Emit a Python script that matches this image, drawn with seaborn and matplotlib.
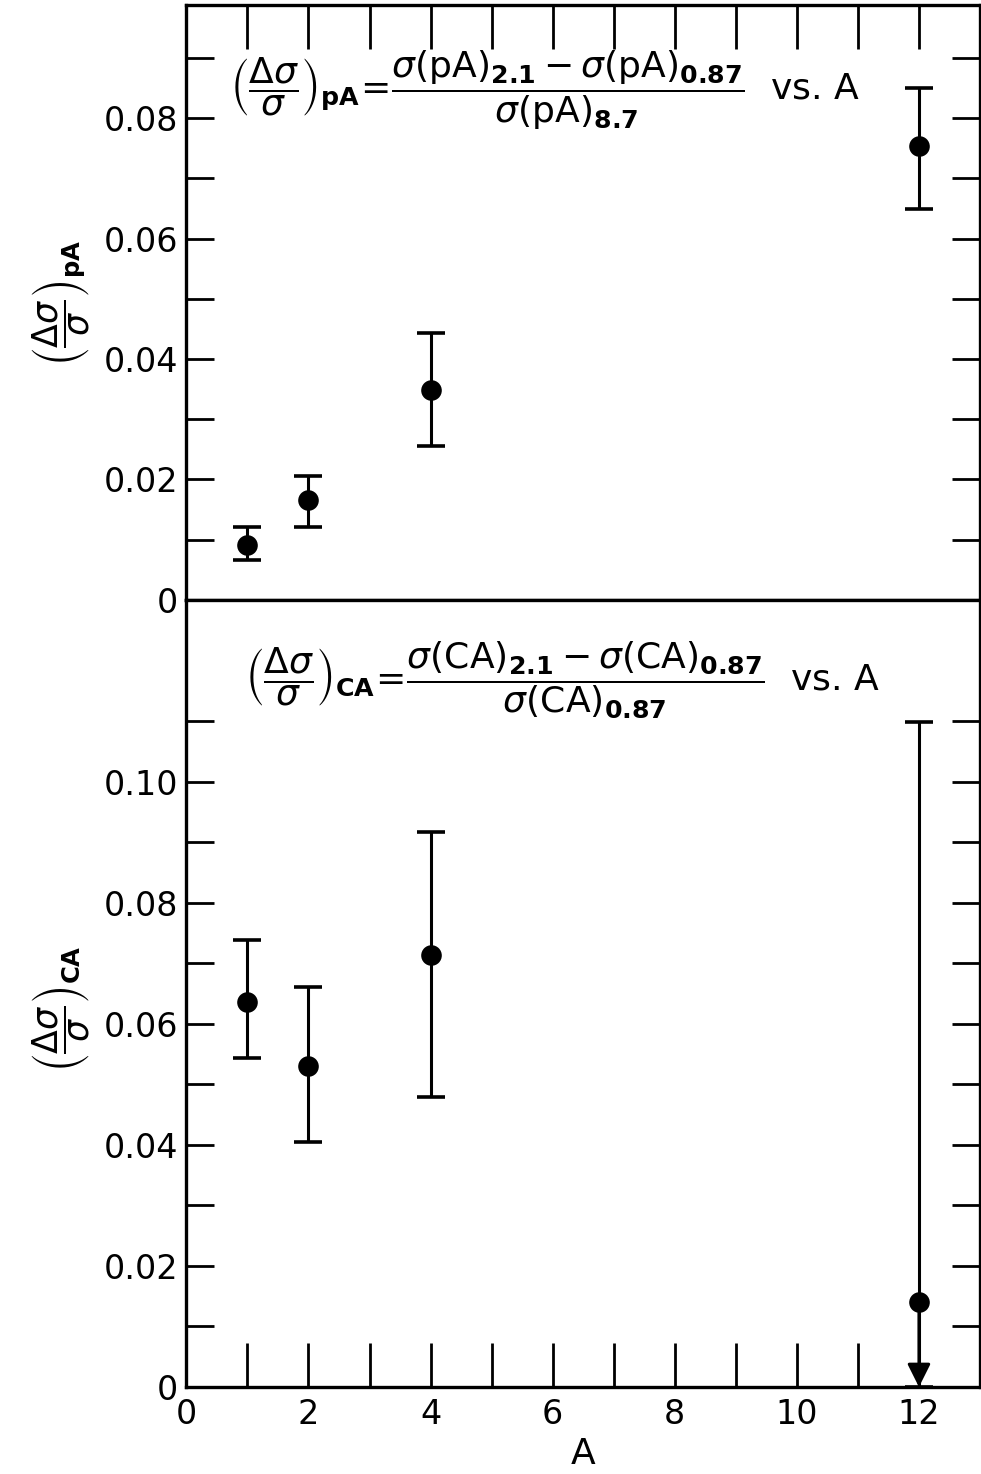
import numpy as np
import matplotlib
matplotlib.use('Agg')
import matplotlib.pyplot as plt
import seaborn as sns

# data
A = [1, 2, 4, 12]

pa_val = [0.0091, 0.0166, 0.0349, 0.0754]
pa_lo = [0.0066, 0.0121, 0.0256, 0.0649]
pa_hi = [0.0121, 0.0206, 0.0443, 0.0851]

ca_val = [0.0636, 0.0531, 0.0714, 0.0140]
ca_lo = [0.0544, 0.0405, 0.0479, 0.0]   # 0 = open downward (arrow)
ca_hi = [0.0739, 0.0660, 0.0917, 0.1098]

pa_ticks = [0, 0.02, 0.04, 0.06, 0.08]
pa_ticklabels = ['0', '0.02', '0.04', '0.06', '0.08']
ca_ticks = [0, 0.02, 0.04, 0.06, 0.08, 0.10]
ca_ticklabels = ['0', '0.02', '0.04', '0.06', '0.08', '0.10']
x_ticks = [0, 2, 4, 6, 8, 10, 12]

sns.set_style('ticks')
plt.rcParams['font.family'] = ['DejaVu Sans']
plt.rcParams['mathtext.fontset'] = 'dejavusans'
plt.rcParams['text.color'] = 'black'
plt.rcParams['axes.labelcolor'] = 'black'
plt.rcParams['xtick.color'] = 'black'
plt.rcParams['ytick.color'] = 'black'

fig = plt.figure(figsize=(9.81, 14.74), dpi=100)
ax1 = fig.add_axes([0.19, 0.593, 0.809, 0.4036])
ax2 = fig.add_axes([0.19, 0.059, 0.809, 0.534])

lw = 2.4
for ax in (ax1, ax2):
    for s in ax.spines.values():
        s.set_linewidth(lw)
        s.set_color('black')
    ax.set_xlim(0, 13)


def draw(ax, val, lo, hi):
    val = np.array(val)
    lo = np.array(lo)
    hi = np.array(hi)
    ax.errorbar(A, val, yerr=[val - lo, hi - val], fmt='none', ecolor='black',
                elinewidth=2.2, capsize=10, capthick=2.6, zorder=2, clip_on=False)
    sns.scatterplot(x=A, y=val, ax=ax, color='black', s=220, edgecolor='black',
                    linewidth=0, zorder=3, clip_on=False)


draw(ax1, pa_val, pa_lo, pa_hi)
draw(ax2, ca_val, ca_lo, ca_hi)

# arrow for the open lower bound
for a, v, l in zip(A, ca_val, ca_lo):
    if l == 0:
        ax2.annotate('', xy=(a, 0), xytext=(a, v),
                     arrowprops=dict(arrowstyle='-|>', color='black', lw=2.2,
                                     mutation_scale=35, shrinkA=0, shrinkB=0))

# top panel
ax1.set_ylim(0, 0.0988)
ax1.set_yticks(pa_ticks)
ax1.set_yticklabels(pa_ticklabels)
ax1.set_yticks(np.arange(0.01, 0.0988, 0.02), minor=True)
ax1.set_xticks(range(1, 13))
ax1.tick_params(axis='x', which='both', top=True, bottom=False, labelbottom=False,
                labeltop=False, direction='in', length=32, width=2)
ax1.tick_params(axis='x', which='minor', top=False, bottom=False)

# bottom panel
ax2.set_ylim(0, 0.130)
ax2.set_yticks(ca_ticks)
ax2.set_yticklabels(ca_ticklabels)
ax2.set_yticks(np.arange(0.01, 0.125, 0.02), minor=True)
ax2.xaxis.remove_overlapping_locs = False
ax2.set_xticks(x_ticks)
ax2.set_xticklabels([str(t) for t in x_ticks])
ax2.set_xticks(range(1, 12), minor=True)
ax2.tick_params(axis='x', which='major', length=0, pad=8, labelsize=24)
ax2.tick_params(axis='x', which='minor', bottom=True, direction='in', length=32, width=2)

for ax in (ax1, ax2):
    ax.tick_params(axis='y', which='both', left=True, right=True, direction='in',
                   length=20, width=2, labelsize=24, pad=6)

ax2.set_xlabel('A', fontsize=26, labelpad=4)

ax1.set_ylabel(r'$\left(\dfrac{\Delta\sigma}{\sigma}\right)_{\mathbf{pA}}$', fontsize=25)
ax1.yaxis.set_label_coords(-0.118, 0.50)
ax2.set_ylabel(r'$\left(\dfrac{\Delta\sigma}{\sigma}\right)_{\mathbf{CA}}$', fontsize=25)
ax2.yaxis.set_label_coords(-0.118, 0.48)

ax1.text(0.055, 0.857,
         r'$\left(\dfrac{\Delta\sigma}{\sigma}\right)_{\mathbf{pA}}\!=\!'
         r'\dfrac{\sigma(\mathrm{pA})_{\mathbf{2.1}}-\sigma(\mathrm{pA})_{\mathbf{0.87}}}'
         r'{\sigma(\mathrm{pA})_{\mathbf{8.7}}}$  vs. A',
         transform=ax1.transAxes, fontsize=26, va='center', ha='left')
ax2.text(0.074, 0.898,
         r'$\left(\dfrac{\Delta\sigma}{\sigma}\right)_{\mathbf{CA}}\!=\!'
         r'\dfrac{\sigma(\mathrm{CA})_{\mathbf{2.1}}-\sigma(\mathrm{CA})_{\mathbf{0.87}}}'
         r'{\sigma(\mathrm{CA})_{\mathbf{0.87}}}$  vs. A',
         transform=ax2.transAxes, fontsize=26, va='center', ha='left')

fig.savefig('out.png', dpi=100)
